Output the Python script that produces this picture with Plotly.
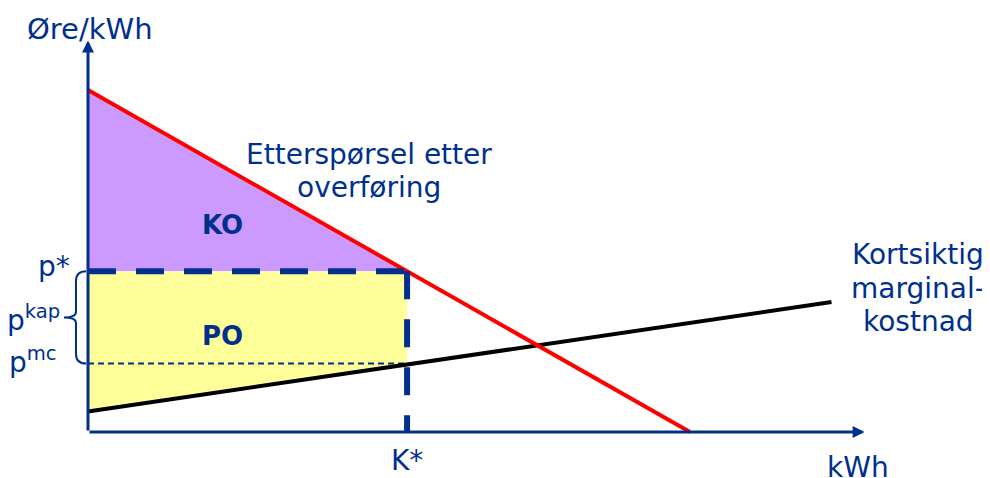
import plotly.graph_objects as go

# demand curve for transmission (price in øre/kWh vs quantity)
demand_q = [0, 100]
demand_p = [100, 0]

# short-run marginal cost
mc_q = [0, 123.5]
mc_p = [6, 38]

k_star = 53
p_star = 47
p_mc = 20

x_axis_end = 129
y_axis_end = 114.5

navy = "#00308C"
font = "DejaVu Sans"

mc_at_k = mc_p[0] + (mc_p[1] - mc_p[0]) / mc_q[1] * k_star

fig = go.Figure()

# consumer surplus (KO)
fig.add_trace(go.Scatter(
    x=[0, 0, k_star, 0], y=[demand_p[0], p_star, p_star, demand_p[0]],
    fill="toself", fillcolor="#CC99FF", line=dict(width=0), mode="lines",
    hoverinfo="skip"))

# producer surplus (PO)
fig.add_trace(go.Scatter(
    x=[0, k_star, k_star, 0, 0], y=[p_star, p_star, mc_at_k, mc_p[0], p_star],
    fill="toself", fillcolor="#FFFF99", line=dict(width=0), mode="lines",
    hoverinfo="skip"))

# thin dashed p^mc line
fig.add_trace(go.Scatter(
    x=[0, k_star], y=[p_mc, p_mc], mode="lines",
    line=dict(color=navy, width=2, dash="6px,4px")))

# marginal cost
fig.add_trace(go.Scatter(
    x=mc_q, y=mc_p, mode="lines", line=dict(color="black", width=4)))

# demand
fig.add_trace(go.Scatter(
    x=demand_q, y=demand_p, mode="lines", line=dict(color="#FF0000", width=4)))

# thick dashed p* / K* lines
fig.add_trace(go.Scatter(
    x=[0, k_star], y=[p_star, p_star], mode="lines",
    line=dict(color=navy, width=6, dash="28px,20px")))
fig.add_trace(go.Scatter(
    x=[k_star, k_star], y=[p_star, 0], mode="lines",
    line=dict(color=navy, width=6, dash="28px,20px")))

# curly brace between p* and p^mc
mid = (p_star + p_mc) / 2
bx, tx = -2.0, -4.0
brace = (f"M -0.3,{p_star} Q {bx},{p_star} {bx},{p_star - 2.8} "
         f"L {bx},{mid + 1.6} Q {bx},{mid} {tx},{mid} "
         f"Q {bx},{mid} {bx},{mid - 1.6} "
         f"L {bx},{p_mc + 2.8} Q {bx},{p_mc} -0.3,{p_mc}")
fig.add_shape(type="path", path=brace, xref="x", yref="y",
              line=dict(color=navy, width=2))

# axes with arrows
for tip, tail in [((x_axis_end, 0), (0, 0)), ((0, y_axis_end), (0, 0))]:
    fig.add_annotation(x=tip[0], y=tip[1], ax=tail[0], ay=tail[1],
                       xref="x", yref="y", axref="x", ayref="y",
                       text="", showarrow=True, arrowhead=2, arrowsize=0.8,
                       arrowwidth=3, arrowcolor=navy, standoff=0, startstandoff=0)

labels = [
    (0.3, 117.9, "Øre/kWh", "center", 29),
    (46.6, 81.0, "Etterspørsel etter", "center", 28),
    (46.6, 71.4, "overføring", "center", 28),
    (22.3, 60.5, "<b>KO</b>", "center", 26),
    (22.3, 28.0, "<b>PO</b>", "center", 26),
    (-2.6, 48.5, "p*", "right", 28),
    (-4.3, 33.3, "p<sup>kap</sup>", "right", 28),
    (-4.8, 20.8, "p<sup>mc</sup>", "right", 28),
    (k_star, -8.2, "K*", "center", 28),
    (127.9, -10.4, "kWh", "center", 28),
    (137.9, 51.8, "Kortsiktig", "center", 28),
    (137.9, 42.1, "marginal-", "center", 28),
    (137.9, 32.4, "kostnad", "center", 28),
]
for x, y, t, align, size in labels:
    fig.add_annotation(x=x, y=y, text=t, showarrow=False,
                       xanchor=align, yanchor="middle",
                       font=dict(family=font, size=size, color=navy))

# page body adds an 8px margin, so the figure is 8px smaller than the window
fig.update_xaxes(range=[-13.29, 149.83], visible=False)
fig.update_yaxes(range=[-13.45, 123.98], visible=False)
fig.update_layout(
    width=982, height=470,
    margin=dict(l=0, r=0, t=0, b=0),
    paper_bgcolor="white", plot_bgcolor="white",
    showlegend=False,
)

fig.write_html("out.html")
